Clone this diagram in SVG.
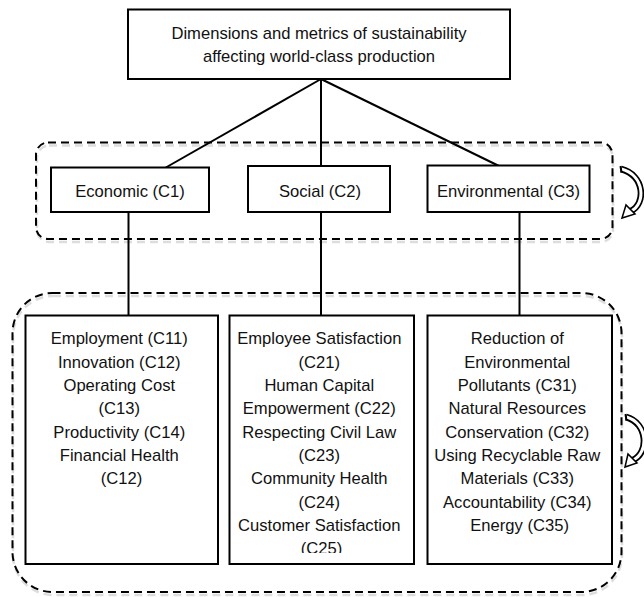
<svg xmlns="http://www.w3.org/2000/svg" width="644" height="597" viewBox="0 0 644 597">
<defs>
<style>
.box{fill:#fff;stroke:#000;stroke-width:2}
.dash{fill:none;stroke:#000;stroke-width:2;stroke-dasharray:8 5}
.shadow{fill:none;stroke:#ddd;stroke-width:2.5;stroke-dasharray:8 5}
.t{font-family:"Liberation Sans",Arial,sans-serif;font-size:16.6px;fill:#111;text-anchor:middle}
.ln{stroke:#000;stroke-width:2;fill:none}
.arcO{fill:none;stroke:#000;stroke-width:6.5;stroke-linecap:butt}
.arcI{fill:none;stroke:#fff;stroke-width:3;stroke-linecap:butt}
.head{fill:#fff;stroke:#000;stroke-width:1.5;stroke-linejoin:miter}
</style>
<clipPath id="clip2"><rect x="229" y="316" width="185" height="237"/></clipPath>
</defs>
<rect width="644" height="597" fill="#fff"/>

<g id="groups">
<rect class="shadow" x="37" y="145.5" width="576" height="96.5" rx="12"/>
<rect class="dash" x="36" y="142.5" width="576.5" height="96.5" rx="12"/>
<rect class="shadow" x="13" y="296" width="609" height="299" rx="40"/>
<rect class="dash" x="12.5" y="293" width="609" height="299" rx="40"/>
</g>

<g id="connectors">
<line class="ln" x1="321" y1="79" x2="165" y2="168"/>
<line class="ln" x1="321" y1="79" x2="321" y2="166"/>
<line class="ln" x1="321" y1="79" x2="499" y2="166"/>
<line class="ln" x1="128.5" y1="212" x2="128.5" y2="316"/>
<line class="ln" x1="321" y1="212" x2="321" y2="316"/>
<line class="ln" x1="519.5" y1="212" x2="519.5" y2="316"/>
</g>

<g id="root">
<rect class="box" x="128" y="9.5" width="382" height="69.5"/>
<text class="t" x="319" y="38.8">Dimensions and metrics of sustainability</text>
<text class="t" x="319" y="62">affecting world-class production</text>
</g>

<g id="c1">
<rect class="box" x="51" y="167.5" width="158" height="44.5"/>
<text class="t" x="130" y="196.5">Economic (C1)</text>
</g>
<g id="c2">
<rect class="box" x="248" y="166" width="142" height="46"/>
<text class="t" x="320" y="196.5">Social (C2)</text>
</g>
<g id="c3">
<rect class="box" x="427.5" y="165.5" width="162" height="46.5"/>
<text class="t" x="508.5" y="196.5">Environmental (C3)</text>
</g>

<g id="c1-metrics">
<rect class="box" x="25.5" y="315.5" width="192.5" height="248.5"/>
<text class="t" x="121.6" y="344.3">
<tspan x="121.6" dy="0">Employment (C11)</tspan>
<tspan x="121.6" dy="23.33">Innovation (C12)</tspan>
<tspan x="121.6" dy="23.33">Operating Cost</tspan>
<tspan x="121.6" dy="23.33">(C13)</tspan>
<tspan x="121.6" dy="23.33">Productivity (C14)</tspan>
<tspan x="121.6" dy="23.33">Financial Health</tspan>
<tspan x="121.6" dy="23.33">(C12)</tspan>
</text>
</g>

<g id="c2-metrics">
<rect class="box" x="229.5" y="315.5" width="184.5" height="248.5"/>
<text class="t" x="321.6" y="344.3" clip-path="url(#clip2)">
<tspan x="321.6" dy="0">Employee Satisfaction</tspan>
<tspan x="321.6" dy="23.33">(C21)</tspan>
<tspan x="321.6" dy="23.33">Human Capital</tspan>
<tspan x="321.6" dy="23.33">Empowerment (C22)</tspan>
<tspan x="321.6" dy="23.33">Respecting Civil Law</tspan>
<tspan x="321.6" dy="23.33">(C23)</tspan>
<tspan x="321.6" dy="23.33">Community Health</tspan>
<tspan x="321.6" dy="23.33">(C24)</tspan>
<tspan x="321.6" dy="23.33">Customer Satisfaction</tspan>
<tspan x="321.6" dy="23.33">(C25)</tspan>
</text>
</g>

<g id="c3-metrics">
<rect class="box" x="427.5" y="315.5" width="184.5" height="248.5"/>
<text class="t" x="519.6" y="344.3">
<tspan x="519.6" dy="0">Reduction of</tspan>
<tspan x="519.6" dy="23.33">Environmental</tspan>
<tspan x="519.6" dy="23.33">Pollutants (C31)</tspan>
<tspan x="519.6" dy="23.33">Natural Resources</tspan>
<tspan x="519.6" dy="23.33">Conservation (C32)</tspan>
<tspan x="519.6" dy="23.33">Using Recyclable Raw</tspan>
<tspan x="519.6" dy="23.33">Materials (C33)</tspan>
<tspan x="519.6" dy="23.33">Accountability (C34)</tspan>
<tspan x="519.6" dy="23.33">Energy (C35)</tspan>
</text>
</g>

<g id="loop-top">
<path class="arcO" d="M621 169 C645 175 646 204 631 211"/>
<path class="arcI" d="M621.5 169 C645 175 646 204 631 211"/>
<line class="ln" x1="620.5" y1="166" x2="621.5" y2="172.5" stroke-width="1.5"/>
<polygon class="head" points="622,218 626,205 635,214"/>
</g>
<g id="loop-bottom">
<path class="arcO" d="M626 417 C648 423 649 453 633 460"/>
<path class="arcI" d="M626.5 417 C648 423 649 453 633 460"/>
<line class="ln" x1="625.5" y1="414" x2="626.5" y2="420.5" stroke-width="1.5"/>
<polygon class="head" points="625,467 628,454 637,463"/>
</g>
</svg>
